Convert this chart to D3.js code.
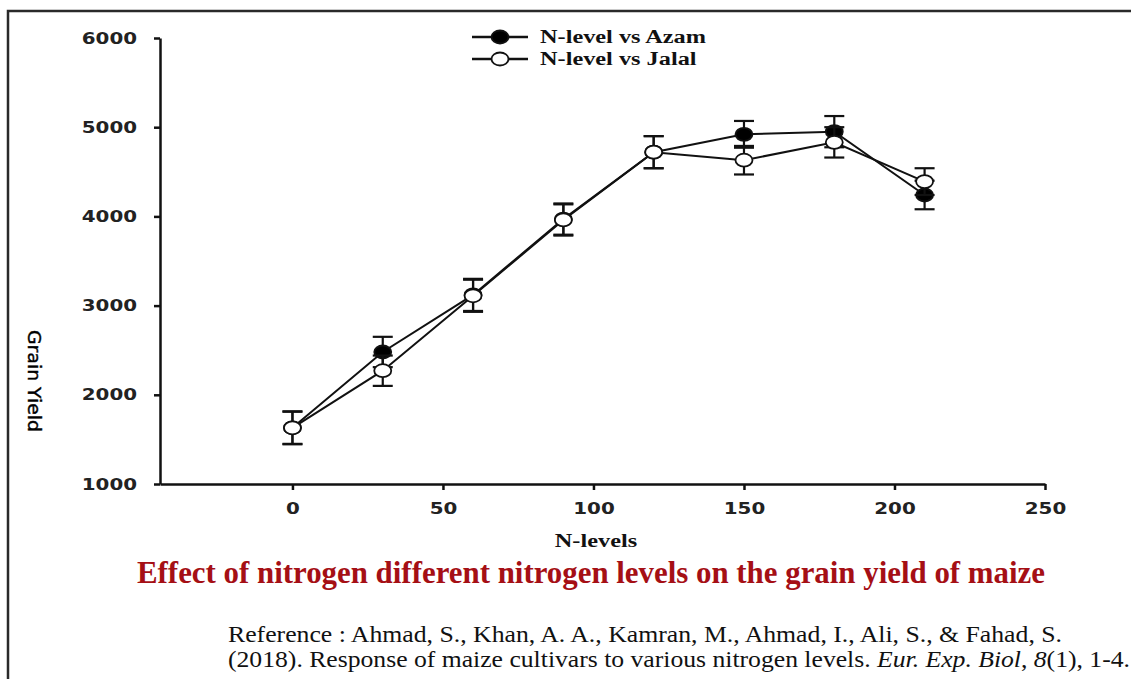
<!DOCTYPE html>
<html>
<head>
<meta charset="utf-8">
<script src="https://cdn.jsdelivr.net/npm/d3@7"></script>
<style>
  html, body { margin: 0; padding: 0; background: #fff; }
  svg { display: block; }
</style>
</head>
<body>
<div id="chart"></div>
<script>
// values
const nLevels = [0, 30, 60, 90, 120, 150, 180, 210];
const azamYield = [1630, 2480, 3120, 3970, 4720, 4920, 4950, 4240];
const azamErr = [180, 170, 180, 175, 180, 150, 175, 160];
const jalalYield = [1630, 2270, 3110, 3960, 4720, 4630, 4830, 4390];
const jalalErr = [185, 170, 180, 175, 180, 160, 170, 150];
const xTicks = [0, 50, 100, 150, 200, 250];
const yTicks = [1000, 2000, 3000, 4000, 5000, 6000];
const seriesNames = ['N-level vs Azam', 'N-level vs Jalal'];

const W = 1131, H = 679;

const svg = d3.select('#chart').append('svg')
    .attr('width', W)
    .attr('height', H);

svg.append('rect').attr('width', W).attr('height', H).attr('fill', '#fff');

// frame (only top and left edges are visible)
svg.append('path')
    .attr('d', `M8,${H} L8,11 L${W},11`)
    .attr('fill', 'none')
    .attr('stroke', '#2a2a2a')
    .attr('stroke-width', 2.5);

// the plot part of the figure is widened, so stretch its texts a bit
const stretch = function(sel, k) {
    sel.each(function() {
        const len = this.getComputedTextLength();
        d3.select(this).attr('textLength', len * k).attr('lengthAdjust', 'spacingAndGlyphs');
    });
};

const x = d3.scaleLinear().domain([-44, 250]).range([160, 1045]);
const y = d3.scaleLinear().domain([1000, 6000]).range([484, 38]);

const xAxis = svg.append('g')
    .attr('transform', `translate(0,${y(1000)})`)
    .call(d3.axisBottom(x).tickValues(xTicks).tickFormat(d3.format('d'))
        .tickSize(6).tickSizeOuter(0).tickPadding(13));

const yAxis = svg.append('g')
    .attr('transform', `translate(${x(-44)},0)`)
    .call(d3.axisLeft(y).tickValues(yTicks).tickFormat(d3.format('d'))
        .tickSize(6).tickSizeOuter(0).tickPadding(17));

[xAxis, yAxis].forEach(g => {
    g.select('.domain').attr('stroke', '#111').attr('stroke-width', 2.5);
    g.selectAll('.tick line').attr('stroke', '#111').attr('stroke-width', 2.5);
    g.selectAll('.tick text')
        .attr('fill', '#222')
        .style('font-family', 'DejaVu Sans, sans-serif')
        .style('font-size', '16px')
        .style('font-weight', 'bold');
    stretch(g.selectAll('.tick text'), 1.24);
});

// axis titles
svg.append('text')
    .attr('transform', 'translate(28,381) rotate(90)')
    .attr('text-anchor', 'middle')
    .attr('fill', '#000')
    .attr('stroke', '#000')
    .attr('stroke-width', 0.4)
    .attr('textLength', 102)
    .attr('lengthAdjust', 'spacingAndGlyphs')
    .style('font-family', 'DejaVu Sans, sans-serif')
    .style('font-size', '18px')
    .text('Grain Yield');

svg.append('text')
    .attr('x', 596)
    .attr('y', 547)
    .attr('text-anchor', 'middle')
    .attr('fill', '#111')
    .style('font-family', 'Liberation Serif, serif')
    .style('font-size', '18px')
    .style('font-weight', 'bold')
    .text('N-levels')
    .call(stretch, 1.35);

// series
const series = [
    { name: seriesNames[0], values: azamYield, errors: azamErr, fill: '#000' },
    { name: seriesNames[1], values: jalalYield, errors: jalalErr, fill: '#fff' }
];

const line = d3.line()
    .x(d => x(d.n))
    .y(d => y(d.v));

const RX = 8.5, RY = 6.5, CAP = 10;

series.forEach(s => {
    const pts = nLevels.map((n, i) => ({ n: n, v: s.values[i], e: s.errors[i] }));
    const g = svg.append('g');

    g.append('path')
        .datum(pts)
        .attr('d', line)
        .attr('fill', 'none')
        .attr('stroke', '#111')
        .attr('stroke-width', 2);

    const err = g.selectAll('.err')
        .data(pts)
        .enter()
        .append('g')
        .attr('stroke', '#111')
        .attr('stroke-width', 2.2);

    err.append('line')
        .attr('x1', d => x(d.n)).attr('x2', d => x(d.n))
        .attr('y1', d => y(d.v - d.e)).attr('y2', d => y(d.v + d.e));
    err.append('line')
        .attr('x1', d => x(d.n) - CAP).attr('x2', d => x(d.n) + CAP)
        .attr('y1', d => y(d.v + d.e)).attr('y2', d => y(d.v + d.e));
    err.append('line')
        .attr('x1', d => x(d.n) - CAP).attr('x2', d => x(d.n) + CAP)
        .attr('y1', d => y(d.v - d.e)).attr('y2', d => y(d.v - d.e));

    g.selectAll('ellipse')
        .data(pts)
        .enter()
        .append('ellipse')
        .attr('cx', d => x(d.n))
        .attr('cy', d => y(d.v))
        .attr('rx', RX)
        .attr('ry', RY)
        .attr('fill', s.fill)
        .attr('stroke', '#111')
        .attr('stroke-width', 1.8);
});

// legend
const legend = svg.append('g').attr('transform', 'translate(472,37)');
const item = legend.selectAll('.legend-item')
    .data(series)
    .enter()
    .append('g')
    .attr('transform', (d, i) => `translate(0,${i * 22})`);

item.append('line')
    .attr('x1', 0).attr('x2', 56)
    .attr('stroke', '#111')
    .attr('stroke-width', 2.5);

item.append('ellipse')
    .attr('cx', 28)
    .attr('rx', RX).attr('ry', RY)
    .attr('fill', d => d.fill)
    .attr('stroke', '#111')
    .attr('stroke-width', 1.8);

item.append('text')
    .attr('x', 68)
    .attr('y', 6)
    .attr('fill', '#111')
    .style('font-family', 'Liberation Serif, serif')
    .style('font-size', '18px')
    .style('font-weight', 'bold')
    .text(d => d.name)
    .call(stretch, 1.35);

// caption
svg.append('text')
    .attr('x', 591)
    .attr('y', 583)
    .attr('text-anchor', 'middle')
    .attr('fill', '#a50f15')
    .attr('textLength', 908)
    .attr('lengthAdjust', 'spacingAndGlyphs')
    .style('font-family', 'Liberation Serif, serif')
    .style('font-size', '31px')
    .style('font-weight', 'bold')
    .text('Effect of nitrogen different nitrogen levels on the grain yield of maize');

svg.append('text')
    .attr('x', 228)
    .attr('y', 642)
    .attr('fill', '#111')
    .attr('textLength', 834)
    .attr('lengthAdjust', 'spacingAndGlyphs')
    .style('font-family', 'Liberation Serif, serif')
    .style('font-size', '24px')
    .text('Reference : Ahmad, S., Khan, A. A., Kamran, M., Ahmad, I., Ali, S., & Fahad, S.');

const ref2 = svg.append('text')
    .attr('x', 228)
    .attr('y', 667)
    .attr('fill', '#111')
    .attr('textLength', 902)
    .attr('lengthAdjust', 'spacingAndGlyphs')
    .style('font-family', 'Liberation Serif, serif')
    .style('font-size', '24px');

ref2.append('tspan').text('(2018). Response of maize cultivars to various nitrogen levels. ');
ref2.append('tspan').style('font-style', 'italic').text('Eur. Exp. Biol');
ref2.append('tspan').text(', ');
ref2.append('tspan').style('font-style', 'italic').text('8');
ref2.append('tspan').text('(1), 1-4.');
</script>
</body>
</html>
